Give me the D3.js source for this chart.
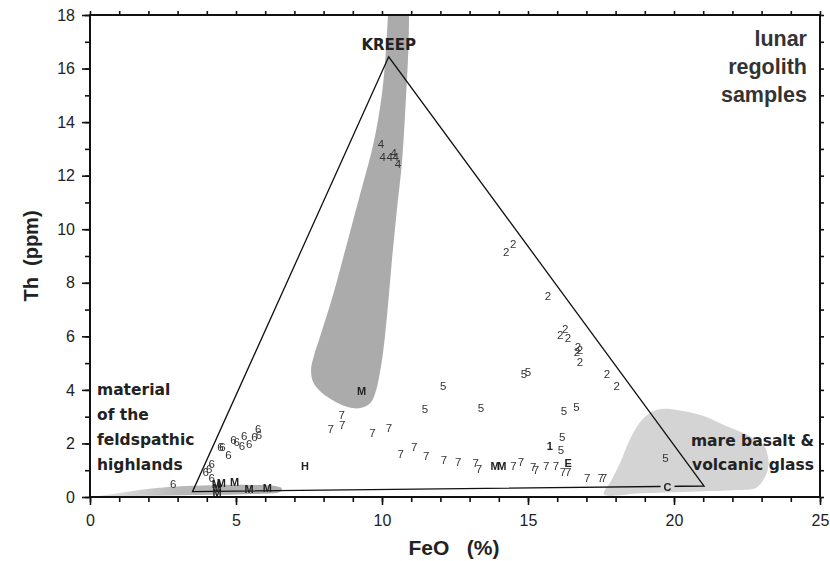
<!DOCTYPE html>
<html><head><meta charset="utf-8">
<script src="https://cdn.jsdelivr.net/npm/d3@7"></script>
<style>
html,body{margin:0;padding:0;background:#fff;}
svg{display:block;}
</style>
</head><body>
<svg id="chart" width="830" height="561"></svg>
<script>
// ---------- DATA ----------
const xTicksMajor = [0, 5, 10, 15, 20, 25];
const yTicksMajor = [0, 2, 4, 6, 8, 10, 12, 14, 16, 18];
const xLabel = "FeO   (%)";
const yLabel = "Th  (ppm)";

// sample groups (FeO %, Th ppm)
const group1 = [[15.75, 1.9]];
const group2 = [[14.25, 9.15], [14.49, 9.45], [15.68, 7.5], [16.27, 6.27], [16.1, 6.05], [16.37, 5.94],
  [16.71, 5.6], [16.78, 5.5], [16.68, 5.41], [16.78, 5.04], [17.7, 4.59], [18.04, 4.14]];
const group4 = [[9.96, 13.18], [10.02, 12.69], [10.26, 12.69], [10.4, 12.84], [10.47, 12.69], [10.55, 12.44]];
const group5 = [[14.86, 4.59], [15.0, 4.67], [12.1, 4.16], [11.47, 3.29], [13.39, 3.33], [16.23, 3.22],
  [16.66, 3.37], [16.17, 2.25], [16.13, 1.76], [19.71, 1.48]];
const group6 = [[5.76, 2.56], [5.79, 2.32], [5.63, 2.25], [5.45, 2.0], [5.28, 2.28], [5.2, 1.9], [5.02, 2.06],
  [4.91, 2.15], [4.74, 1.57], [4.54, 1.88], [4.47, 1.86], [4.17, 1.22], [4.08, 1.05], [3.96, 0.95],
  [4.17, 0.7], [2.85, 0.49]];
const group7 = [[8.62, 3.06], [8.64, 2.69], [8.24, 2.53], [9.67, 2.38], [10.24, 2.6], [10.64, 1.61], [11.1, 1.86],
  [11.51, 1.54], [12.12, 1.38], [12.61, 1.3], [13.21, 1.26], [13.32, 1.05], [14.5, 1.16], [14.76, 1.32],
  [15.18, 1.11], [15.27, 1.03], [15.62, 1.16], [15.96, 1.16], [16.2, 0.95], [16.38, 0.95], [17.03, 0.7],
  [17.49, 0.7], [17.6, 0.7]];
const groupM = [[9.3, 3.97], [4.33, 0.5], [4.5, 0.52], [4.95, 0.55], [4.35, 0.32], [4.35, 0.15], [5.45, 0.28],
  [6.07, 0.33], [13.87, 1.17], [14.1, 1.17]];
const groupH = [[7.36, 1.16]];
const groupE = [[16.38, 1.26]];
const labelC = [[19.78, 0.36]];

// mixing triangle: KREEP, highlands, mare
const triangle = [[10.23, 16.44], [3.51, 0.2], [21.03, 0.41]];

// shaded fields
const kreepField = [[10.93, 18.6], [10.91, 16.94], [10.83, 15.09], [10.69, 12.58], [10.51, 10.72], [10.34, 8.85],
  [10.19, 6.98], [10.0, 5.12], [9.77, 3.88], [9.6, 3.51], [9.26, 3.32], [8.8, 3.37], [8.11, 3.75], [7.66, 4.25],
  [7.57, 4.74], [7.66, 5.24], [7.88, 5.99], [8.34, 7.61], [8.8, 9.47], [9.26, 11.34], [9.71, 13.21],
  [10.0, 15.07], [10.15, 16.94], [10.23, 18.6]];
const mareField = [[17.6, 0.1], [17.83, 0.57], [18.17, 1.32], [18.51, 2.19], [18.85, 2.81], [19.26, 3.19],
  [19.6, 3.29], [20.11, 3.25], [20.91, 3.06], [21.71, 2.69], [22.63, 2.25], [23.08, 1.94], [23.21, 1.53],
  [23.24, 1.19], [23.1, 0.71], [22.8, 0.34], [22.18, 0.26], [20.57, 0.2], [18.85, 0.14]];
const highlandField = [[0.17, 0.01], [0.97, 0.14], [2.11, 0.32], [3.26, 0.41], [4.4, 0.45], [5.54, 0.45],
  [6.34, 0.41], [6.57, 0.32], [6.51, 0.2], [5.54, 0.11], [3.26, 0.07], [1.54, 0.04]];

// ---------- CHART ----------
const svg = d3.select("#chart");
const x = d3.scaleLinear().domain([0, 25]).range([90, 820]);
const y = d3.scaleLinear().domain([0, 18]).range([497, 15]);

const defs = svg.append("defs");
defs.append("clipPath").attr("id", "plotclip").append("rect")
  .attr("x", x(0)).attr("y", y(18)).attr("width", x(25) - x(0)).attr("height", y(0) - y(18));
const grad = defs.append("linearGradient").attr("id", "hlgrad")
  .attr("x1", "0%").attr("x2", "100%").attr("y1", "0%").attr("y2", "0%");
grad.append("stop").attr("offset", "0%").attr("stop-color", "#e6e6e6");
grad.append("stop").attr("offset", "45%").attr("stop-color", "#b8b8b8");
grad.append("stop").attr("offset", "100%").attr("stop-color", "#adadad");

// mask to break the base line at the C label
const mask = defs.append("mask").attr("id", "cmask").attr("maskUnits", "userSpaceOnUse")
  .attr("x", 0).attr("y", 0).attr("width", 830).attr("height", 561);
mask.append("rect").attr("x", 0).attr("y", 0).attr("width", 830).attr("height", 561).attr("fill", "#fff");
mask.selectAll("rect.c").data(labelC).join("rect").attr("class", "c")
  .attr("x", d => x(d[0]) - 7).attr("y", d => y(d[1]) - 7).attr("width", 14).attr("height", 14).attr("fill", "#000");

const plot = svg.append("g").attr("clip-path", "url(#plotclip)");
const lineGen = d3.line().x(d => x(d[0])).y(d => y(d[1])).curve(d3.curveCatmullRomClosed.alpha(0.5));

plot.append("path").datum(highlandField).attr("d", lineGen).attr("fill", "url(#hlgrad)");
plot.append("path").datum(mareField).attr("d", lineGen).attr("fill", "#d4d4d4");
plot.append("path").datum(kreepField)
  .attr("d", d3.line().x(d => x(d[0])).y(d => y(d[1])).curve(d3.curveCatmullRom.alpha(0.5)))
  .attr("fill", "#ababab");

// triangle
plot.append("path").datum(triangle)
  .attr("d", d3.line().x(d => x(d[0])).y(d => y(d[1])).curve(d3.curveLinearClosed))
  .attr("fill", "none").attr("stroke", "#111").attr("stroke-width", 1.3).attr("mask", "url(#cmask)");

// sample labels (grayscale antialiasing via group opacity)
const labelLayer = svg.append("g").attr("opacity", 0.999);
function drawGroup(data, label, bold) {
  labelLayer.append("g").selectAll("text").data(data).join("text")
    .attr("x", d => x(d[0])).attr("y", d => y(d[1])).attr("dy", "0.36em")
    .attr("text-anchor", "middle")
    .attr("font-family", "Liberation Sans, Arial, sans-serif")
    .attr("font-size", bold ? 11 : 11.5)
    .attr("font-weight", bold ? "bold" : "normal")
    .attr("fill", bold ? "#222" : "#333")
    .text(label);
}
drawGroup(group2, "2", false);
drawGroup(group4, "4", false);
drawGroup(group5, "5", false);
drawGroup(group6, "6", false);
drawGroup(group7, "7", false);
drawGroup(group1, "1", true);
drawGroup(groupM, "M", true);
drawGroup(groupH, "H", true);
drawGroup(groupE, "E", true);
drawGroup(labelC, "C", true);

// axes
const tickFont = "Liberation Sans, Arial, sans-serif";
function styleAxis(g) {
  g.select(".domain").remove();
  g.selectAll(".tick line").attr("stroke", "#111").attr("stroke-width", 1.6);
  g.selectAll(".tick text").attr("font-family", tickFont).attr("font-size", 16).attr("fill", "#222");
}
svg.append("g").attr("transform", `translate(0,${y(0)})`)
  .call(d3.axisBottom(x).tickValues(d3.range(0, 26)).tickSize(5).tickFormat("")).call(styleAxis);
svg.append("g").attr("transform", `translate(0,${y(0)})`)
  .call(d3.axisBottom(x).tickValues(xTicksMajor).tickSize(8).tickPadding(10).tickFormat(d3.format("d"))).call(styleAxis);
svg.append("g").attr("transform", `translate(${x(0)},0)`)
  .call(d3.axisLeft(y).tickValues(d3.range(0, 19)).tickSize(5).tickFormat("")).call(styleAxis);
svg.append("g").attr("transform", `translate(${x(0)},0)`)
  .call(d3.axisLeft(y).tickValues(yTicksMajor).tickSize(8).tickPadding(7).tickFormat(d3.format("d"))).call(styleAxis);
svg.append("g").attr("transform", `translate(0,${y(18)})`)
  .call(d3.axisTop(x).tickValues(d3.range(0, 26)).tickSize(4).tickFormat("")).call(styleAxis);
svg.append("g").attr("transform", `translate(${x(25)},0)`)
  .call(d3.axisRight(y).tickValues(d3.range(0, 19)).tickSize(4).tickFormat("")).call(styleAxis);

// frame
svg.append("rect").attr("x", x(0)).attr("y", y(18)).attr("width", x(25) - x(0)).attr("height", y(0) - y(18))
  .attr("fill", "none").attr("stroke", "#111").attr("stroke-width", 2);

// axis titles
svg.append("text").attr("x", (x(0) + x(25)) / 2 - 1).attr("y", 555)
  .attr("text-anchor", "middle").attr("font-family", tickFont).attr("font-weight", "bold")
  .attr("font-size", 21).attr("fill", "#222").style("white-space", "pre").text(xLabel);
svg.append("text").attr("transform", `translate(38,${(y(0) + y(18)) / 2})rotate(-90)`)
  .attr("text-anchor", "middle").attr("font-family", tickFont).attr("font-weight", "bold")
  .attr("font-size", 20).attr("fill", "#222").style("white-space", "pre").text(yLabel);

// annotations
const comic = "'DejaVu Sans', sans-serif";
svg.append("text").attr("x", x(triangle[0][0])).attr("y", 50).attr("text-anchor", "middle")
  .attr("font-family", comic).attr("font-weight", "bold").attr("font-size", 15).attr("fill", "#222").text("KREEP");

const hl = ["material", "of the", "feldspathic", "highlands"];
svg.append("g").selectAll("text").data(hl).join("text")
  .attr("x", 97).attr("y", (d, i) => 395 + i * 25)
  .attr("font-family", comic).attr("font-weight", "bold").attr("font-size", 15.5).attr("fill", "#222").text(d => d);

const mare = ["mare basalt &", "volcanic glass"];
svg.append("g").selectAll("text").data(mare).join("text")
  .attr("x", 814).attr("y", (d, i) => 446 + i * 24).attr("text-anchor", "end")
  .attr("font-family", comic).attr("font-weight", "bold").attr("font-size", 15.5).attr("fill", "#222").text(d => d);

const title = ["lunar", "regolith", "samples"];
svg.append("g").selectAll("text").data(title).join("text")
  .attr("x", 807).attr("y", (d, i) => 46 + i * 28).attr("text-anchor", "end")
  .attr("font-family", tickFont).attr("font-weight", "bold").attr("font-size", 21.5).attr("fill", "#333").text(d => d);
</script>
</body></html>
